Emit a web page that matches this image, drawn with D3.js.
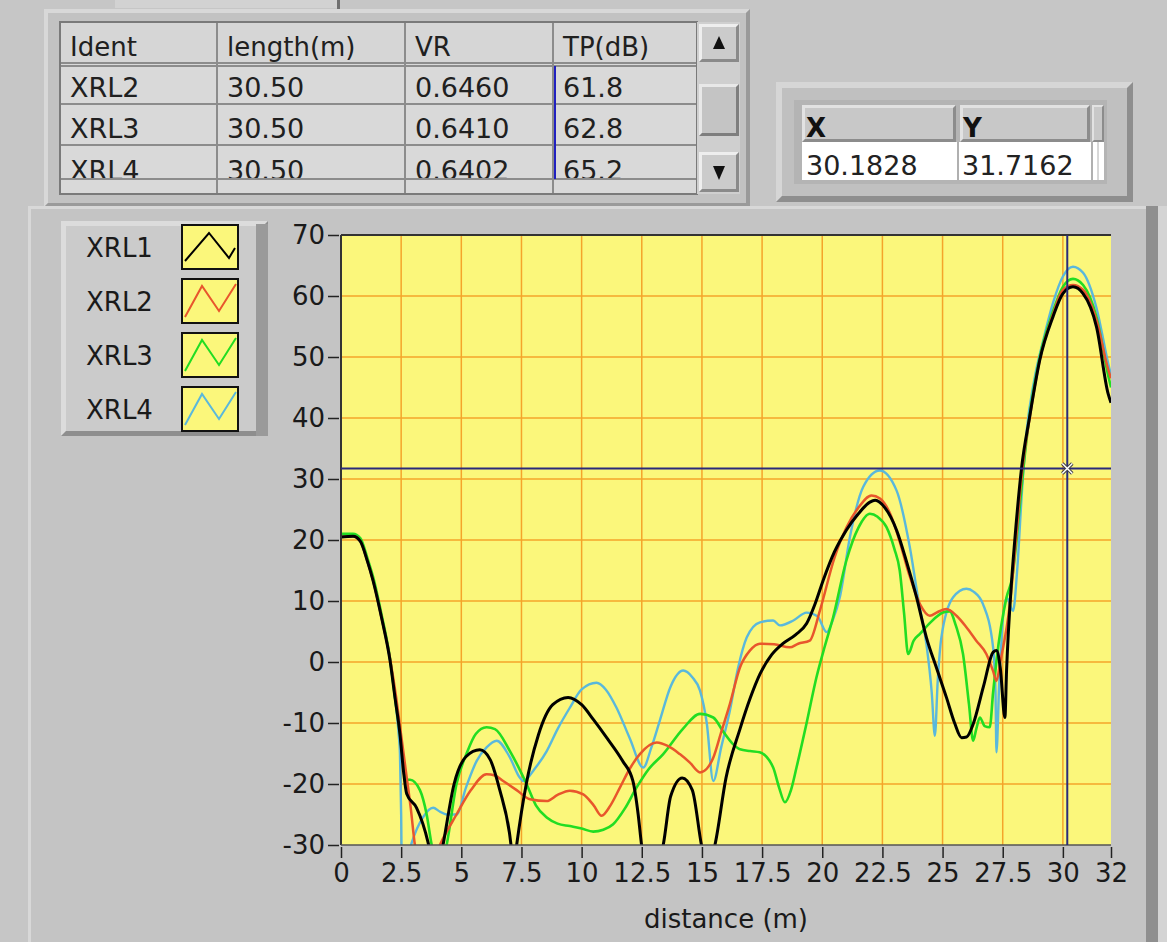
<!DOCTYPE html>
<html><head><meta charset="utf-8">
<script src="https://cdn.jsdelivr.net/npm/d3@7"></script>
<style>
html,body{margin:0;padding:0;background:#c6c6c6;}
svg{display:block;}
text{font-family:"DejaVu Sans",Verdana,sans-serif;}
</style></head>
<body>
<svg id="chart" width="1167" height="942"></svg>
<script>
// ---------------- DATA ----------------
const seriesNames = ["XRL1","XRL2","XRL3","XRL4"];
const xrl1 = [[0,20.5],[0.5,20.6],[0.8,19.8],[1.1,16.5],[1.33,13.4],[1.7,7],[2.04,0.2],[2.25,-6],[2.45,-11.8],[2.6,-18],[2.73,-21.6],[3.14,-23.9],[3.4,-26.5],[3.62,-29.6],[3.8,-33],[4.0,-35],[4.24,-30],[4.7,-20],[5.2,-15.5],[5.77,-14.4],[6.2,-16],[6.6,-21],[7.0,-28],[7.1,-31],[7.2,-33],[7.3,-30],[7.7,-20],[8.2,-12],[8.8,-7],[9.44,-5.8],[10.0,-7],[10.5,-9.5],[11.04,-12.4],[11.7,-16.2],[12.13,-19.5],[12.35,-25],[12.49,-30],[12.6,-33],[13.0,-34],[13.39,-30],[13.7,-22],[14.18,-19],[14.6,-21],[14.98,-30],[15.2,-34],[15.54,-30],[16.0,-19],[16.58,-11],[17.0,-6],[17.41,-2.0],[17.9,1.2],[18.36,3.0],[18.9,4.5],[19.35,6.3],[19.7,9.5],[20.04,13.4],[20.5,18],[21.0,21.6],[21.5,24.3],[21.98,26.2],[22.2,26.5],[22.6,25.3],[23.09,21.6],[23.5,16.5],[23.92,10.6],[24.33,4.0],[24.75,-1],[25.16,-5.8],[25.5,-10],[25.79,-12.4],[26.0,-12.3],[26.27,-10.2],[26.7,-4],[27.1,1.6],[27.24,1.9],[27.4,-1],[27.59,-9.1],[27.66,-1.4],[27.86,12.8],[28.0,19.9],[28.28,31.7],[28.62,40.2],[29.04,49.5],[29.59,56.6],[30.0,60.4],[30.42,61.5],[30.84,60.4],[31.4,54.9],[31.88,44.0],[32,42.5]];
const xrl2 = [[0,20.5],[0.5,20.6],[0.8,19.8],[1.1,16.5],[1.33,13.4],[1.7,7],[2.04,0.5],[2.3,-6],[2.5,-12],[2.7,-18],[2.9,-24],[3.07,-30],[3.2,-33],[3.6,-35],[4.11,-30],[4.8,-25],[5.4,-21],[6.05,-18.4],[6.4,-18.6],[6.74,-19.5],[7.3,-21],[7.85,-22.5],[8.55,-22.8],[9.0,-21.8],[9.51,-21.1],[10.07,-21.7],[10.5,-23.5],[10.83,-25.2],[11.2,-23.5],[11.59,-20.6],[12.0,-17.5],[12.42,-15.1],[13.12,-13.2],[13.6,-13.8],[14.08,-15.1],[14.5,-16.5],[14.92,-18.1],[15.2,-17.5],[15.47,-15.7],[15.8,-11.5],[16.16,-6.9],[16.58,-0.9],[17.0,1.9],[17.41,3.0],[18.0,2.9],[18.65,2.4],[19.0,3],[19.48,3.5],[19.9,8.4],[20.5,17],[21.0,22],[21.5,25.3],[22.05,27.3],[22.4,26.8],[22.8,24.5],[23.2,20],[23.6,14.5],[24.06,9.5],[24.47,7.6],[24.8,8.2],[25.16,8.7],[25.6,7.5],[25.99,5.7],[26.4,3.5],[26.82,1.3],[27.1,-1.5],[27.24,-3.1],[27.4,0],[27.8,9.6],[28.05,20],[28.3,31],[28.62,40],[29.04,49.5],[29.59,57],[30.0,61],[30.42,61.8],[30.84,61],[31.4,56],[31.88,48],[32,46.5]];
const xrl3 = [[0,21],[0.5,21],[0.8,20.3],[1.1,17],[1.33,14],[1.7,7.5],[2.04,0.5],[2.25,-6],[2.45,-11.8],[2.6,-17],[2.73,-19.3],[2.87,-19.3],[3.28,-21],[3.56,-25],[3.77,-30],[4.0,-33],[4.2,-33],[4.39,-30],[4.8,-20],[5.22,-15],[5.6,-11.8],[6.05,-10.7],[6.4,-11],[7.02,-14.6],[7.71,-20],[8.1,-23.5],[8.55,-25.5],[9.0,-26.5],[9.51,-26.9],[10.0,-27.3],[10.48,-27.8],[10.9,-27.5],[11.31,-26.6],[11.8,-24],[12.28,-20.6],[12.8,-17.5],[13.39,-15.1],[14.2,-11],[14.92,-8.5],[15.47,-9.1],[15.9,-11.5],[16.3,-13.5],[16.58,-14.3],[17.0,-14.6],[17.4,-14.8],[17.96,-17.3],[18.2,-20.5],[18.45,-23],[18.7,-21],[18.93,-17.3],[19.35,-10],[19.76,-2.5],[20.1,2.5],[20.45,7.3],[21.0,16.6],[21.5,22],[21.98,24.3],[22.3,23.8],[22.67,22.1],[23.0,18.5],[23.22,15.0],[23.4,8],[23.57,1.3],[23.8,3.5],[24.06,4.6],[24.5,6.5],[25.02,8.1],[25.3,8.3],[25.55,6],[25.85,1.3],[26.1,-7],[26.27,-12.9],[26.4,-11],[26.55,-9.1],[26.75,-10.5],[26.96,-10.7],[27.1,-5],[27.24,0.2],[27.66,10.6],[27.9,14],[28.1,21],[28.35,31.4],[28.62,40.5],[29.04,50],[29.59,57.5],[30.0,61.5],[30.42,62.8],[30.84,61.8],[31.4,56.5],[31.88,47],[32,45]];
const xrl4 = [[0,20.5],[0.5,20.6],[0.8,19.8],[1.1,16.5],[1.33,13.4],[1.7,7],[2.04,0.2],[2.25,-6],[2.4,-12],[2.45,-15],[2.5,-25],[2.52,-31],[2.7,-33],[2.94,-29.6],[3.4,-25.5],[3.83,-23.9],[4.1,-24.5],[4.39,-25],[4.8,-25],[5.2,-20.5],[5.64,-16.2],[6.05,-14],[6.47,-12.9],[7.0,-15.5],[7.44,-19],[7.58,-19.5],[8.05,-17.5],[8.55,-14.6],[9.0,-11],[9.51,-7.5],[10.0,-4.5],[10.62,-3.4],[11.0,-4.5],[11.45,-7.5],[12.0,-12.5],[12.56,-17.3],[12.9,-14],[13.25,-9.6],[13.7,-4],[14.22,-1.4],[14.6,-2.5],[14.92,-4.7],[15.2,-10],[15.47,-19.5],[15.8,-14],[16.16,-8.0],[16.5,-1],[16.86,4.0],[17.41,6.5],[17.96,6.8],[18.24,6.0],[18.8,6.8],[19.35,8.1],[19.8,7.5],[20.18,4.9],[20.45,7],[20.73,10.6],[21.15,20.5],[21.7,28.7],[22.39,31.4],[23.09,28.1],[23.64,18.8],[24.0,10],[24.33,2.9],[24.55,-5],[24.68,-12.1],[24.8,-3],[24.95,4.0],[25.44,10.6],[25.99,12.0],[26.3,11.5],[26.68,9.5],[27.1,2.4],[27.2,-5],[27.24,-14.8],[27.35,-4],[27.66,10.6],[27.93,8.4],[28.1,15],[28.3,28],[28.5,38],[28.8,46],[29.2,53],[29.6,59],[30.0,63.2],[30.42,64.8],[30.84,63.8],[31.4,58],[31.88,49],[32,47]];
const seriesColors = ["#000000","#e8562c","#22dd22","#5ab8dc"];
const seriesWidths = [3,2.5,2.6,2.4];

const xTickValues = [0,2.5,5,7.5,10,12.5,15,17.5,20,22.5,25,27.5,30,32];
const yTickValues = [-30,-20,-10,0,10,20,30,40,50,60,70];
const xLabel = "distance (m)";

const tableHeaders = ["Ident","length(m)","VR","TP(dB)"];
const tableIdent = ["XRL2","XRL3","XRL4"];
const tableLength = ["30.50","30.50","30.50"];
const tableVR = ["0.6460","0.6410","0.6402"];
const tableTP = ["61.8","62.8","65.2"];

const cursorX = 30.1828;
const cursorY = 31.7162;

// ---------------- DRAW ----------------
const svg = d3.select("#chart");
const bg = "#c6c6c6";
svg.append("rect").attr("width",1167).attr("height",942).attr("fill",bg);

function bevel(g,x,y,w,h,fill,light,dark,t){
  g.append("rect").attr("x",x).attr("y",y).attr("width",w).attr("height",h).attr("fill",fill);
  g.append("path").attr("d",`M${x},${y+h} L${x},${y} L${x+w},${y} L${x+w-t},${y+t} L${x+t},${y+t} L${x+t},${y+h-t} Z`).attr("fill",light);
  g.append("path").attr("d",`M${x+w},${y} L${x+w},${y+h} L${x},${y+h} L${x+t},${y+h-t} L${x+w-t},${y+h-t} L${x+w-t},${y+t} Z`).attr("fill",dark);
}

// top tab
svg.append("rect").attr("x",115).attr("y",0).attr("width",225).attr("height",8).attr("fill","#d2d2d2");
svg.append("rect").attr("x",337).attr("y",0).attr("width",3).attr("height",12).attr("fill","#707070");

// ---- Table ----
const tg = svg.append("g");
bevel(tg,44,9,706,198,"#c2c2c2","#d8d8d8","#9a9a9a",4);
const colX = [60,217,405,553,697];
const tTop = 22, tBot = 194;
tg.append("rect").attr("x",60).attr("y",tTop).attr("width",637).attr("height",tBot-tTop).attr("fill","#d9d9d9");
tg.append("rect").attr("x",60).attr("y",tTop).attr("width",637).attr("height",41).attr("fill","#d6d6d6");
const defs = svg.append("defs");
defs.append("clipPath").attr("id","tclip").append("rect").attr("x",60).attr("y",tTop).attr("width",637).attr("height",157);
const cols = [tableIdent,tableLength,tableVR,tableTP];
tableHeaders.forEach((h,i)=>{
  tg.append("text").attr("x",colX[i]+10).attr("y",56).attr("font-size",26).attr("fill","#202020").text(h);
});
const rowBase = [97,138,180];
const rowsG = tg.append("g").attr("clip-path","url(#tclip)");
cols.forEach((col,ci)=>{
  col.forEach((v,ri)=>{
    rowsG.append("text").attr("x",colX[ci]+10).attr("y",rowBase[ri]).attr("font-size",27).attr("fill","#202020").text(v);
  });
});
[63,66].forEach(y=>tg.append("line").attr("x1",60).attr("x2",697).attr("y1",y).attr("y2",y).attr("stroke","#8c8c8c").attr("stroke-width",2));
[104,145,179].forEach(y=>tg.append("line").attr("x1",60).attr("x2",697).attr("y1",y).attr("y2",y).attr("stroke","#8c8c8c").attr("stroke-width",2));
colX.slice(1,4).forEach(x=>tg.append("line").attr("x1",x).attr("x2",x).attr("y1",tTop).attr("y2",tBot).attr("stroke","#8c8c8c").attr("stroke-width",2));
tg.append("rect").attr("x",60).attr("y",tTop).attr("width",637).attr("height",tBot-tTop).attr("fill","none").attr("stroke","#7a7a7a").attr("stroke-width",2);
tg.append("line").attr("x1",555).attr("x2",555).attr("y1",66).attr("y2",179).attr("stroke","#2020c0").attr("stroke-width",2);
// scrollbar
tg.append("rect").attr("x",697).attr("y",tTop).attr("width",43).attr("height",tBot-tTop).attr("fill","#cfcfcf");
bevel(tg,699,24,40,38,"#cbcbcb","#eeeeee","#8a8a8a",3);
tg.append("path").attr("d","M719,36 L725,49 L713,49 Z").attr("fill","#111");
bevel(tg,699,84,40,52,"#c4c4c4","#e8e8e8","#7e7e7e",3);
bevel(tg,699,152,40,40,"#cbcbcb","#eeeeee","#8a8a8a",3);
tg.append("path").attr("d","M713,166 L725,166 L719,180 Z").attr("fill","#111");

// ---- XY box ----
const xg = svg.append("g");
bevel(xg,776,82,357,120,"#c0c0c0","#d6d6d6","#8e8e8e",6);
xg.append("rect").attr("x",794).attr("y",100).attr("width",313).attr("height",84).attr("fill","#b4b4b4");
bevel(xg,802,105,154,37,"#c8c8c8","#e2e2e2","#8c8c8c",3);
bevel(xg,960,105,130,37,"#c8c8c8","#e2e2e2","#8c8c8c",3);
bevel(xg,1092,105,12,37,"#c8c8c8","#e2e2e2","#8c8c8c",2);
xg.append("rect").attr("x",802).attr("y",142).attr("width",302).attr("height",38).attr("fill","#ffffff");
xg.append("line").attr("x1",958).attr("x2",958).attr("y1",142).attr("y2",180).attr("stroke","#b0b0b0").attr("stroke-width",2);
xg.append("line").attr("x1",1092).attr("x2",1092).attr("y1",142).attr("y2",180).attr("stroke","#b0b0b0").attr("stroke-width",2);
xg.append("line").attr("x1",1098).attr("x2",1098).attr("y1",142).attr("y2",180).attr("stroke","#b0b0b0").attr("stroke-width",1);
xg.append("text").attr("x",806).attr("y",137).attr("font-size",26).attr("font-weight","bold").attr("fill","#111").text("X");
xg.append("text").attr("x",963).attr("y",137).attr("font-size",26).attr("font-weight","bold").attr("fill","#111").text("Y");
xg.append("text").attr("x",806).attr("y",175).attr("font-size",27).attr("fill","#222").text(cursorX.toFixed(4));
xg.append("text").attr("x",962).attr("y",175).attr("font-size",27).attr("fill","#222").text(cursorY.toFixed(4));

// ---- chart panel ----
const cg = svg.append("g");
cg.append("rect").attr("x",28).attr("y",206).attr("width",1139).attr("height",736).attr("fill","#c4c4c4");
cg.append("rect").attr("x",28).attr("y",206).attr("width",1139).attr("height",3).attr("fill","#d8d8d8");
cg.append("rect").attr("x",28).attr("y",206).attr("width",3).attr("height",736).attr("fill","#d8d8d8");
cg.append("rect").attr("x",1146).attr("y",206).attr("width",12).attr("height",736).attr("fill","#8f8f8f");
cg.append("rect").attr("x",1158).attr("y",206).attr("width",9).attr("height",736).attr("fill","#d4d4d4");

// legend
const lg = svg.append("g");
bevel(lg,61,221,207,215,"#cbcbcb","#dcdcdc","#8e8e8e",5);
lg.append("rect").attr("x",256).attr("y",224).attr("width",12).attr("height",212).attr("fill","#9a9a9a");
const legendPaths = ["M3,36 L27,8 L47,33 L53,23","M3,38 L20,7 L37,32 L54,5","M3,38 L20,7 L37,32 L54,5","M3,38 L20,7 L37,32 L54,5"];
seriesNames.forEach((n,i)=>{
  const yb = 225 + i*54;
  lg.append("text").attr("x",86).attr("y",yb+32).attr("font-size",26).attr("fill","#1a1a1a").text(n);
  const sg = lg.append("g").attr("transform",`translate(182,${yb})`);
  sg.append("rect").attr("x",0).attr("y",0).attr("width",56).attr("height",44).attr("fill","#fbf77b").attr("stroke","#111").attr("stroke-width",2);
  sg.append("path").attr("d",legendPaths[i]).attr("fill","none").attr("stroke",seriesColors[i]).attr("stroke-width",2);
});

// plot
const pl = 341, pr = 1111, pt = 235, pb = 845;
const x = d3.scaleLinear().domain([0,32]).range([pl,pr]);
const y = d3.scaleLinear().domain([-30,70]).range([pb,pt]);
const pg = svg.append("g");
pg.append("rect").attr("x",pl).attr("y",pt).attr("width",pr-pl).attr("height",pb-pt).attr("fill","#fbf77b");
const gridX = xTickValues.filter(v=>v>0 && v<32);
const gridY = yTickValues.filter(v=>v>-30 && v<70);
pg.selectAll(".gx").data(gridX).join("line").attr("x1",d=>x(d)).attr("x2",d=>x(d)).attr("y1",pt).attr("y2",pb).attr("stroke","#f4a42a").attr("stroke-width",1.5);
pg.selectAll(".gy").data(gridY).join("line").attr("x1",pl).attr("x2",pr).attr("y1",d=>y(d)).attr("y2",d=>y(d)).attr("stroke","#f4a42a").attr("stroke-width",1.5);

defs.append("clipPath").attr("id","pclip").append("rect").attr("x",pl).attr("y",pt).attr("width",pr-pl).attr("height",pb-pt);
const line = d3.line().x(d=>x(d[0])).y(d=>y(d[1])).curve(d3.curveMonotoneX);
const allSeries = [xrl1,xrl2,xrl3,xrl4];
const drawOrder = [3,2,1,0];
const lg2 = pg.append("g").attr("clip-path","url(#pclip)");
drawOrder.forEach(i=>{
  lg2.append("path").datum(allSeries[i]).attr("d",line).attr("fill","none").attr("stroke",seriesColors[i]).attr("stroke-width",seriesWidths[i]).attr("stroke-linejoin","round");
});

pg.append("line").attr("x1",pl).attr("x2",pr).attr("y1",pt).attr("y2",pt).attr("stroke","#333").attr("stroke-width",2);
pg.append("line").attr("x1",pl).attr("x2",pl).attr("y1",pt).attr("y2",pb).attr("stroke","#333").attr("stroke-width",2);
pg.append("line").attr("x1",pl).attr("x2",pr).attr("y1",pb).attr("y2",pb).attr("stroke","#555").attr("stroke-width",1.5);

// cursor
const cx = x(cursorX), cy = y(cursorY);
pg.append("line").attr("x1",cx).attr("x2",cx).attr("y1",pt).attr("y2",pb).attr("stroke","#2a2a7a").attr("stroke-width",2);
pg.append("line").attr("x1",pl).attr("x2",pr).attr("y1",cy).attr("y2",cy).attr("stroke","#2a2a7a").attr("stroke-width",2);
const mk = pg.append("g").attr("transform",`translate(${cx},${cy})`);
mk.append("path").attr("d","M-5,-5 L5,5 M-5,5 L5,-5").attr("stroke","#444").attr("stroke-width",3.5);
mk.append("path").attr("d","M-5,-5 L5,5 M-5,5 L5,-5").attr("stroke","#ffffff").attr("stroke-width",1.5);

// axes
const yAxis = d3.axisLeft(y).tickValues(yTickValues).tickSize(11).tickPadding(3).tickFormat(d=>d);
const ya = svg.append("g").attr("transform",`translate(${pl-2},0)`).call(yAxis);
ya.select(".domain").remove();
ya.selectAll("line").attr("stroke","#222").attr("stroke-width",1.5);
ya.selectAll("text").attr("font-size",26).attr("fill","#1a1a1a").attr("font-family","DejaVu Sans, Verdana, sans-serif");

const xAxis = d3.axisBottom(x).tickValues(xTickValues).tickSize(11).tickPadding(6).tickFormat(d=>d);
const xa = svg.append("g").attr("transform",`translate(0,${pb+2})`).call(xAxis);
xa.select(".domain").remove();
xa.selectAll("line").attr("stroke","#222").attr("stroke-width",1.5);
xa.selectAll("text").attr("font-size",26).attr("fill","#1a1a1a").attr("font-family","DejaVu Sans, Verdana, sans-serif");

svg.append("text").attr("x",(pl+pr)/2).attr("y",928).attr("text-anchor","middle").attr("font-size",26).attr("fill","#1a1a1a").text(xLabel);
</script>
</body></html>
